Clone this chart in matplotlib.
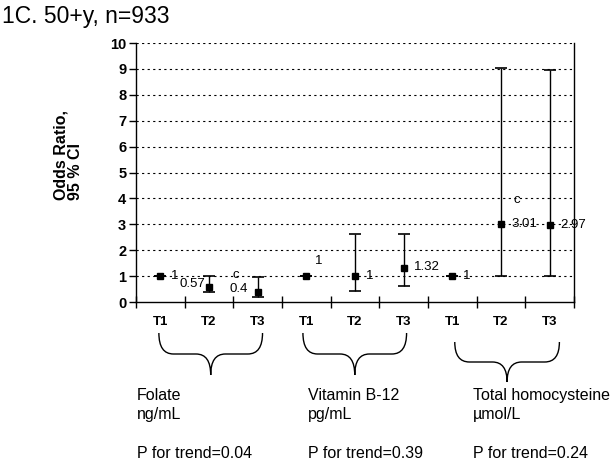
import matplotlib
matplotlib.use("Agg")
import matplotlib.pyplot as plt
from matplotlib.path import Path
from matplotlib.patches import PathPatch
import matplotlib.transforms as mtransforms

plt.rcParams['font.family'] = ['Liberation Sans', 'DejaVu Sans']

tick_labels = ["T1", "T2", "T3"] * 3
odds = [1, 0.57, 0.4, 1, 1, 1.32, 1, 3.01, 2.97]
ci_low = [1, 0.37, 0.2, 1, 0.42, 0.62, 1, 1.0, 1.0]
ci_high = [1, 1.02, 0.98, 1, 2.61, 2.61, 1, 9.05, 8.96]
value_labels = ["1", "0.57", "0.4", "1", "1", "1.32", "1", "3.01", "2.97"]
groups = ["Folate\nng/mL", "Vitamin B-12\npg/mL", "Total homocysteine\nµmol/L"]
p_trend = ["P for trend=0.04", "P for trend=0.39", "P for trend=0.24"]

fig = plt.figure(figsize=(6.15, 4.65), dpi=100)
ax = fig.add_axes([136/615, 1-302/465, 438/615, 259/465])
x = list(range(len(odds)))

ax.set_xlim(-0.5, 8.5)
ax.set_ylim(0, 10)
ax.set_yticks(range(0, 11))
ax.set_yticklabels([str(i) for i in range(0, 11)], fontweight='bold', fontsize=10.5)
ax.set_xticks([i + 0.5 for i in range(-1, 9)])
ax.set_xticklabels([])
for i in range(1, 11):
    ax.axhline(i, color='black', linestyle=(0, (2, 3)), linewidth=0.8, zorder=1)
ax.spines['top'].set_visible(False)
for s in ['left', 'bottom', 'right']:
    ax.spines[s].set_linewidth(1.0)
ax.tick_params(axis='y', direction='out', length=5, width=1, pad=2)
ax.tick_params(axis='x', direction='inout', length=8, width=1)

yerr = [[o - l for o, l in zip(odds, ci_low)], [h - o for o, h in zip(odds, ci_high)]]
ax.errorbar(x, odds, yerr=yerr, fmt='s', color='black', markersize=5,
            ecolor='black', elinewidth=1, capsize=4, capthick=1.2, zorder=3)

# tick labels T1..T3
for xi, lab in zip(x, tick_labels):
    ax.text(xi, -0.78, lab, ha='center', va='center', fontweight='bold', fontsize=9.5,
            clip_on=False)

# value labels (dx, y, ha, va)
offsets = {0: (0.22, 1.0, 'left', 'center'), 1: (-0.07, 0.68, 'right', 'center'),
           2: (-0.4, 0.5, 'center', 'center'), 3: (0.25, 1.6, 'center', 'center'),
           4: (0.22, 1.0, 'left', 'center'), 5: (0.22, 1.37, 'left', 'center'),
           6: (0.22, 1.0, 'left', 'center'), 7: (0.22, 3.01, 'left', 'center'),
           8: (0.22, 2.97, 'left', 'center')}
for i, lab in enumerate(value_labels):
    dx, yy, ha, va = offsets[i]
    ax.text(x[i] + dx, yy, lab, ha=ha, va=va, fontsize=9.5, zorder=4)
ax.text(x[2] - 0.45, 1.05, "c", ha='center', va='center', fontsize=9.5)
ax.text(x[7] + 0.32, 3.95, "c", ha='center', va='center', fontsize=9.5)

# braces
btrans = mtransforms.blended_transform_factory(ax.transData, fig.transFigure)
brace_x = [(-0.03, 2.1), (2.93, 5.06), (6.05, 8.2)]
brace_y = [(333, 375), (333, 375), (342, 382)]
for (x0, x1), (yt, yb) in zip(brace_x, brace_y):
    xc = (x0 + x1) / 2
    top = 1 - yt / 465
    bot = 1 - yb / 465
    mid = top + (bot - top) * 0.5
    verts = [(x0, top), (x0, mid), (x0 + 0.3, mid),
             (xc - 0.3, mid), (xc, mid), (xc, bot),
             (xc, mid), (xc + 0.3, mid),
             (x1 - 0.3, mid), (x1, mid), (x1, top)]
    codes = [Path.MOVETO, Path.CURVE3, Path.CURVE3,
             Path.LINETO, Path.CURVE3, Path.CURVE3,
             Path.CURVE3, Path.CURVE3,
             Path.LINETO, Path.CURVE3, Path.CURVE3]
    patch = PathPatch(Path(verts, codes), facecolor='none', edgecolor='black',
                      linewidth=1, transform=btrans, clip_on=False)
    ax.add_patch(patch)

# group labels
gx = [137, 308, 473]
for g, p, xx in zip(groups, p_trend, gx):
    fig.text(xx / 615, 1 - 388 / 465, g, ha='left', va='top', fontsize=11.5, linespacing=1.3)
    fig.text(xx / 615, 1 - 453 / 465, p, ha='left', va='center', fontsize=11.5)

fig.text(68 / 615, 1 - 155 / 465, "Odds Ratio,\n95 % CI", rotation=90, ha='center', va='center',
         multialignment='left', fontweight='bold', fontsize=11.5, linespacing=0.95)
fig.text(2 / 615, 1 - 16 / 465, "1C. 50+y, n=933", ha='left', va='center', fontsize=16.5)

fig.savefig("out.png", dpi=100)
